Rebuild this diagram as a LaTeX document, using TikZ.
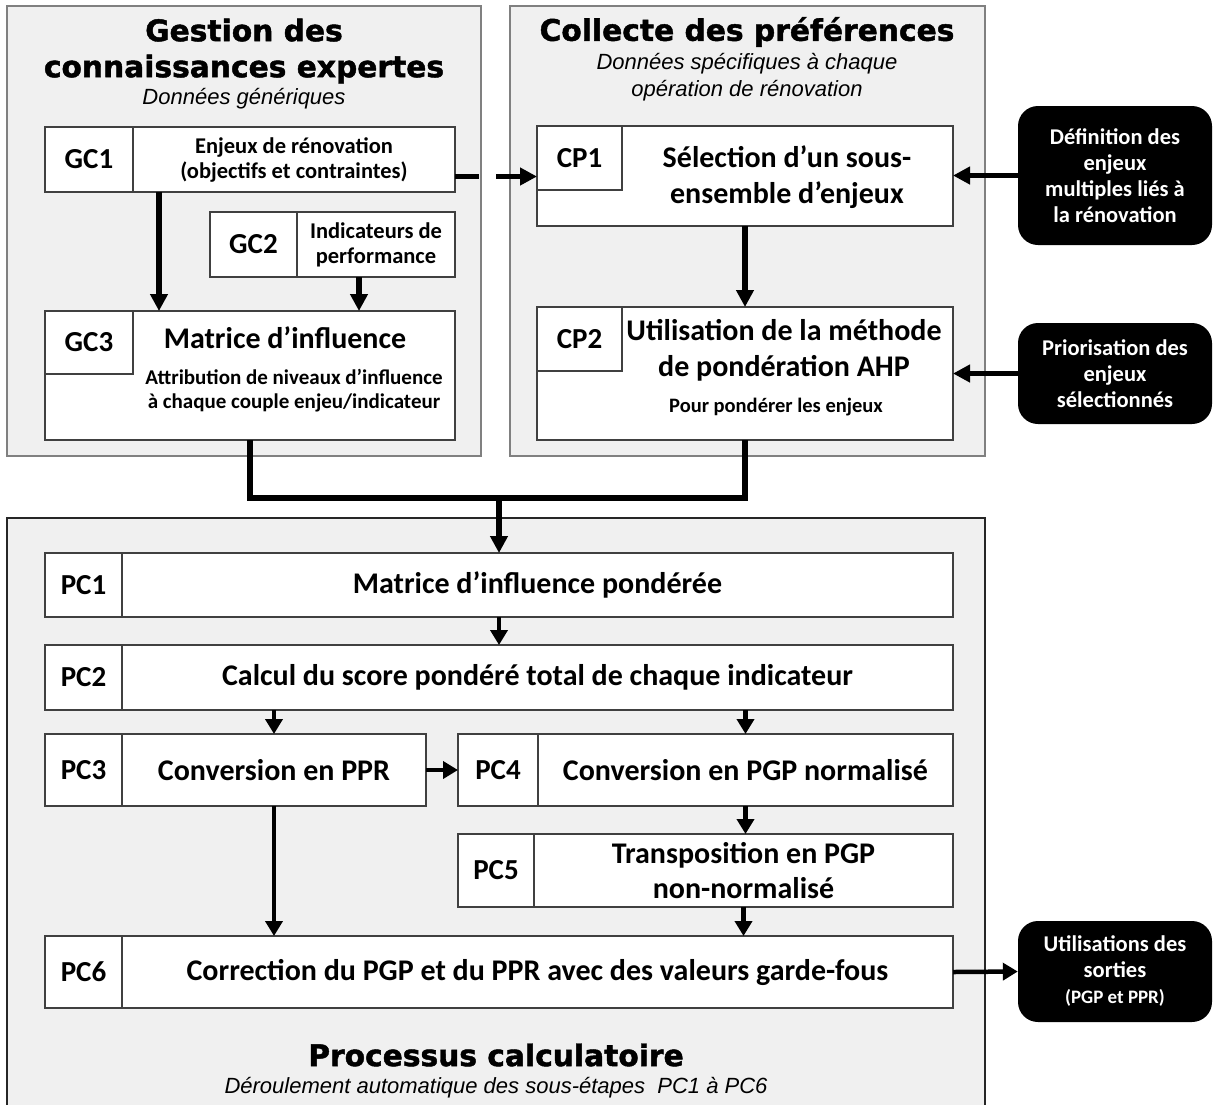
\documentclass[tikz,border=0pt]{standalone}
\usepackage{fontspec}
\setmainfont{Carlito}
\newfontfamily\headfont{DejaVu Sans}[BoldFeatures={FakeBold=1.5}]
\newfontfamily\notefont{Liberation Sans}
\usetikzlibrary{positioning,arrows.meta}
\definecolor{panelfill}{HTML}{F0F0F0}
\definecolor{panelline}{HTML}{808080}
\definecolor{boxline}{HTML}{404040}

\begin{document}
\begin{tikzpicture}[
    x=1pt, y=-1pt,
    panel/.style={draw=panelline, fill=panelfill, line width=1.3pt, anchor=north west, inner sep=0pt, outer sep=0pt},
    heading/.style={font=\headfont\bfseries\fontsize{29.7}{36}\selectfont, align=center},
    note/.style={font=\notefont\itshape\fontsize{22}{27}\selectfont, align=center},
    tag/.style={draw=boxline, fill=white, line width=1.2pt, inner sep=0pt, outer sep=0pt, anchor=north west, font=\bfseries\fontsize{29}{34}\selectfont},
    cell/.style={draw=boxline, fill=white, line width=1.2pt, inner sep=0pt, outer sep=0pt, align=center, font=\bfseries\fontsize{30}{35}\selectfont},
    smalltext/.style={font=\bfseries\fontsize{22.5}{25}\selectfont},
    celltext/.style={align=center, font=\bfseries\fontsize{30}{36}\selectfont},
    extbox/.style={fill=black, rounded corners=20pt, text=white, align=center, minimum width=194pt, inner sep=0pt, font=\bfseries\fontsize{22.5}{26}\selectfont},
    flow/.style={-{Triangle[length=17pt,width=17pt]}, line width=5.5pt},
    subflow/.style={-{Triangle[length=15pt,width=17pt]}, line width=4.5pt},
    link/.style={line width=5.5pt}
]
\clip (0,0) rectangle (1217,1104);

% Panels
\node[panel, minimum width=474pt, minimum height=450pt] (gcpanel) at (7,6) {};
\node[panel, minimum width=475pt, minimum height=450pt] (cppanel) at (510,6) {};
\node[panel, draw=black!85, minimum width=978pt, minimum height=600pt] (pcpanel) at (7,518) {};

% Titles
\node[heading] (gctitle) at (244,51) {Gestion des\\connaissances expertes};
\node[note] (gcnote) at (244,99) {Données génériques};
\node[heading] (cptitle) at (747,32) {Collecte des préférences};
\node[note] (cpnote) at (747,77) {Données spécifiques à chaque\\opération de rénovation};
\node[heading] (pctitle) at (496,1055) {Processus calculatoire};
\node[note] (pcnote) at (496,1088) {Déroulement automatique des sous-étapes~~PC1 à PC6};

% Gestion des connaissances
\node[tag, minimum width=88pt, minimum height=65pt] (gc1l) at (45,127) {GC1};
\node[cell, smalltext, minimum width=322pt, minimum height=65pt, right=0pt of gc1l] (gc1) {Enjeux de rénovation\\(objectifs et contraintes)};
\node[tag, minimum width=87pt, minimum height=65pt] (gc2l) at (210,212) {GC2};
\node[cell, smalltext, minimum width=158pt, minimum height=65pt, right=0pt of gc2l] (gc2) {Indicateurs de\\performance};
\node[cell, anchor=north west, minimum width=410pt, minimum height=129pt] (gc3) at (45,311) {};
\node[tag, minimum width=88pt, minimum height=63pt] (gc3l) at (45,311) {GC3};
\node[celltext] (gc3title) at (285,338) {Matrice d’influence};
\node[align=center, font=\bfseries\fontsize{21}{24}\selectfont] (gc3text) at (294,391) {Attribution de niveaux d’influence\\à chaque couple enjeu/indicateur};

% Collecte des preferences
\node[cell, anchor=north west, minimum width=416pt, minimum height=100pt] (cp1) at (537,126) {};
\node[tag, minimum width=85pt, minimum height=64pt] (cp1l) at (537,126) {CP1};
\node[celltext] (cp1text) at (787,177) {Sélection d’un sous-\\ensemble d’enjeux};
\node[cell, anchor=north west, minimum width=416pt, minimum height=133pt] (cp2) at (537,307) {};
\node[tag, minimum width=85pt, minimum height=64pt] (cp2l) at (537,307) {CP2};
\node[celltext] (cp2text) at (784,350) {Utilisation de la méthode\\de pondération AHP};
\node[font=\bfseries\fontsize{20.5}{24}\selectfont] (cp2note) at (776,407) {Pour pondérer les enjeux};

% Entrees / sorties
\node[extbox, minimum height=139pt] (ext1) at (1115,175.5) {Définition des\\enjeux\\multiples liés à\\la rénovation};
\node[extbox, minimum height=101pt] (ext2) at (1115,373.5) {Priorisation des\\enjeux\\sélectionnés};
\node[extbox, minimum height=101pt] (ext3) at (1115,971.5) {Utilisations des\\sorties\\{\fontsize{19}{22}\selectfont(PGP et PPR)}};

% Processus calculatoire
\node[tag, minimum width=77pt, minimum height=64pt] (pc1l) at (45,553) {PC1};
\node[cell, minimum width=831pt, minimum height=64pt, right=0pt of pc1l] (pc1) {Matrice d’influence pondérée};
\node[tag, minimum width=77pt, minimum height=65pt] (pc2l) at (45,645) {PC2};
\node[cell, minimum width=831pt, minimum height=65pt, right=0pt of pc2l] (pc2) {Calcul du score pondéré total de chaque indicateur};
\node[tag, minimum width=77pt, minimum height=72pt] (pc3l) at (45,734) {PC3};
\node[cell, minimum width=304pt, minimum height=72pt, right=0pt of pc3l] (pc3) {Conversion en PPR};
\node[tag, minimum width=80pt, minimum height=72pt] (pc4l) at (458,734) {PC4};
\node[cell, minimum width=415pt, minimum height=72pt, right=0pt of pc4l] (pc4) {Conversion en PGP normalisé};
\node[tag, minimum width=76pt, minimum height=73pt] (pc5l) at (458,834) {PC5};
\node[cell, minimum width=419pt, minimum height=73pt, right=0pt of pc5l] (pc5) {Transposition en PGP\\non-normalisé};
\node[tag, minimum width=77pt, minimum height=72pt] (pc6l) at (45,936) {PC6};
\node[cell, minimum width=831pt, minimum height=72pt, right=0pt of pc6l] (pc6) {Correction du PGP et du PPR avec des valeurs garde-fous};

% Flux - gestion et collecte
\draw[flow] ([xshift=26pt]gc1.south west) -- ++(0,119);
\draw[flow] ([xshift=62pt]gc2.south west) -- ++(0,34);
\draw[flow, dash pattern=on 24pt off 17pt] ([yshift=-17pt]gc1.east) -- ++(82,0);
\draw[flow] (ext1.west) -- (ext1.west -| cp1.east);
\draw[flow] (ext2.west) -- (ext2.west -| cp2.east);
\draw[flow] (cp1.south) -- (cp2.north);

% Flux - regroupement
\coordinate (merge) at (499,498);
\draw[link] ([xshift=205pt]gc3.south west) |- (merge) -| (cp2.south);
\draw[flow] (merge) -- (merge |- pc1.north);

% Flux - processus calculatoire
\draw[subflow] (merge |- pc1.south) -- (merge |- pc2.north);
\draw[subflow] (pc3.north |- pc2.south) -- (pc3.north);
\draw[subflow] (pc4.north |- pc2.south) -- (pc4.north);
\draw[subflow] (pc3.east) -- (pc4l.west);
\draw[subflow] (pc4.south) -- (pc4.south |- pc5.north);
\draw[subflow] (pc3.south) -- (pc3.south |- pc6.north);
\draw[subflow] (pc5.south) -- (pc5.south |- pc6.north);
\draw[subflow] (pc6.east) -- (ext3.west);

\end{tikzpicture}
\end{document}
